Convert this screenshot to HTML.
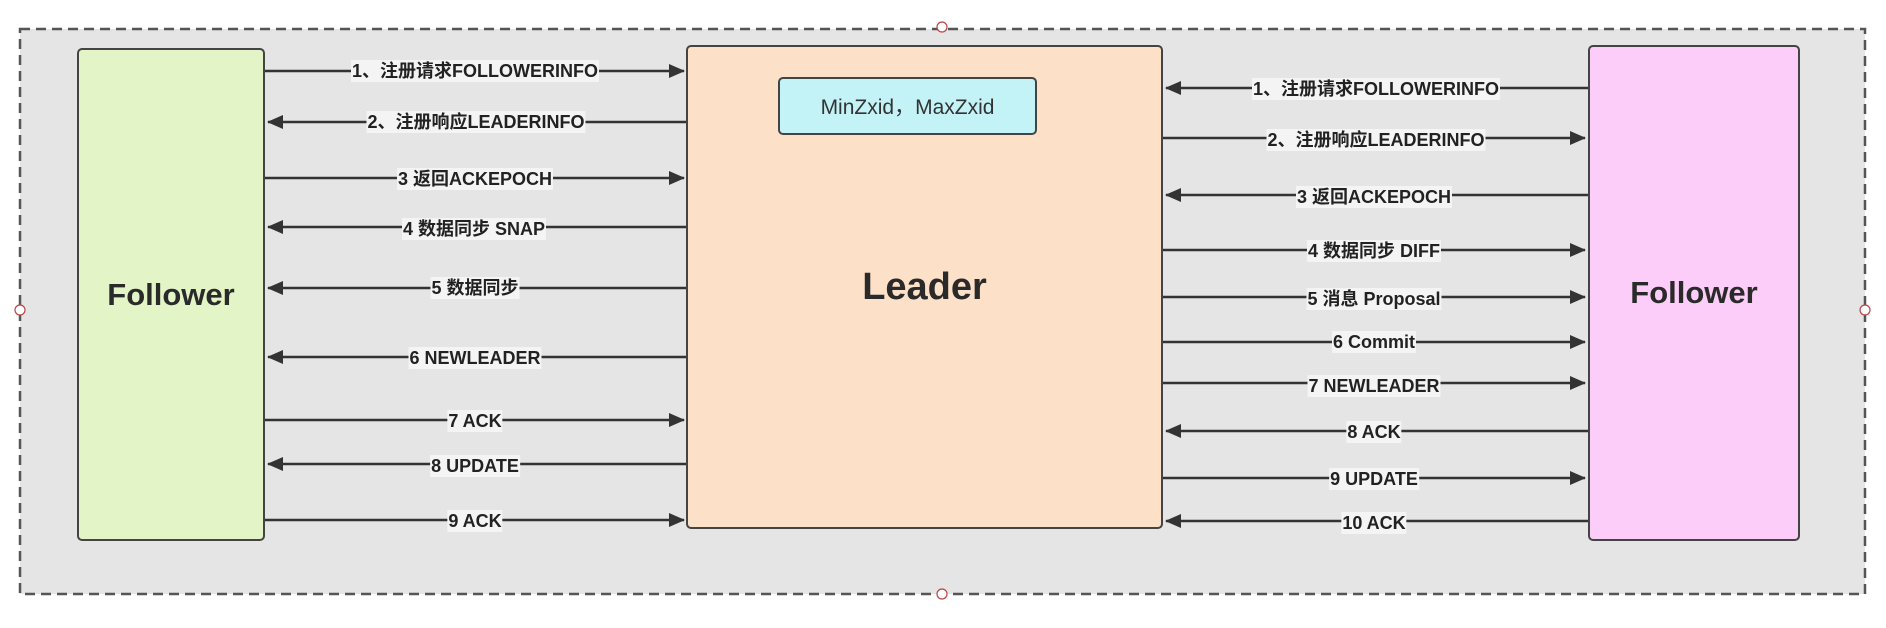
<!DOCTYPE html>
<html><head><meta charset="utf-8"><style>
body{margin:0;width:1886px;height:628px;background:#fff;position:relative;overflow:hidden;font-family:"Liberation Sans","Noto Sans CJK SC",sans-serif}
.lb{position:absolute;transform:translate(-50%,-50%);background:#f4f4f4;color:#222;font-weight:bold;font-size:18px;white-space:nowrap;padding:0 1px;line-height:22px}
.box{position:absolute;border:2px solid #444;border-radius:5px;box-sizing:border-box;display:flex;align-items:center;justify-content:center;font-weight:bold;color:#2a2a2a}
</style></head><body>
<div style="position:absolute;left:20px;top:29px;width:1845px;height:565px;background:#e5e5e5"></div>
<svg width="1886" height="628" style="position:absolute;left:0;top:0">
<defs><marker id="a" markerWidth="16" markerHeight="14" refX="15" refY="7" orient="auto" markerUnits="userSpaceOnUse"><path d="M0,0 L16,7 L0,14 z" fill="#333"/></marker></defs>
<rect x="20" y="29" width="1845" height="565" fill="none" stroke="#555" stroke-width="2.5" stroke-dasharray="10,6"/>
<g fill="#fff" stroke="#b44" stroke-width="1.2"><circle cx="942" cy="27" r="5"/><circle cx="942" cy="594" r="5"/><circle cx="20" cy="310" r="5"/><circle cx="1865" cy="310" r="5"/></g>
<g stroke="#333" stroke-width="2.5" marker-end="url(#a)">
<line x1="265" y1="71" x2="684" y2="71"/>
<line x1="686" y1="122" x2="268" y2="122"/>
<line x1="265" y1="178" x2="684" y2="178"/>
<line x1="686" y1="227" x2="268" y2="227"/>
<line x1="686" y1="288" x2="268" y2="288"/>
<line x1="686" y1="357" x2="268" y2="357"/>
<line x1="265" y1="420" x2="684" y2="420"/>
<line x1="686" y1="464" x2="268" y2="464"/>
<line x1="265" y1="520" x2="684" y2="520"/>
<line x1="1588" y1="88" x2="1166" y2="88"/>
<line x1="1163" y1="138" x2="1585" y2="138"/>
<line x1="1588" y1="195" x2="1166" y2="195"/>
<line x1="1163" y1="250" x2="1585" y2="250"/>
<line x1="1163" y1="297" x2="1585" y2="297"/>
<line x1="1163" y1="342" x2="1585" y2="342"/>
<line x1="1163" y1="383" x2="1585" y2="383"/>
<line x1="1588" y1="431" x2="1166" y2="431"/>
<line x1="1163" y1="478" x2="1585" y2="478"/>
<line x1="1588" y1="521" x2="1166" y2="521"/>
</g></svg>
<div class="box" style="left:77px;top:48px;width:188px;height:493px;background:#e3f5c6;font-size:31px">Follower</div>
<div class="box" style="left:686px;top:45px;width:477px;height:484px;background:#fde0c8;font-size:38px">Leader</div>
<div class="box" style="left:778px;top:77px;width:259px;height:58px;background:#c4f3f7;font-weight:normal;font-size:21px;color:#333">MinZxid，MaxZxid</div>
<div class="box" style="left:1588px;top:45px;width:212px;height:496px;background:#fccdf8;font-size:31px">Follower</div>
<div class="lb" style="left:475px;top:71px">1、注册请求FOLLOWERINFO</div>
<div class="lb" style="left:476px;top:122px">2、注册响应LEADERINFO</div>
<div class="lb" style="left:475px;top:179px">3 返回ACKEPOCH</div>
<div class="lb" style="left:474px;top:229px">4 数据同步 SNAP</div>
<div class="lb" style="left:475px;top:288px">5 数据同步</div>
<div class="lb" style="left:475px;top:358px">6 NEWLEADER</div>
<div class="lb" style="left:475px;top:421px">7 ACK</div>
<div class="lb" style="left:475px;top:466px">8 UPDATE</div>
<div class="lb" style="left:475px;top:521px">9 ACK</div>
<div class="lb" style="left:1376px;top:89px">1、注册请求FOLLOWERINFO</div>
<div class="lb" style="left:1376px;top:140px">2、注册响应LEADERINFO</div>
<div class="lb" style="left:1374px;top:197px">3 返回ACKEPOCH</div>
<div class="lb" style="left:1374px;top:251px">4 数据同步 DIFF</div>
<div class="lb" style="left:1374px;top:299px">5 消息 Proposal</div>
<div class="lb" style="left:1374px;top:342px">6 Commit</div>
<div class="lb" style="left:1374px;top:386px">7 NEWLEADER</div>
<div class="lb" style="left:1374px;top:432px">8 ACK</div>
<div class="lb" style="left:1374px;top:479px">9 UPDATE</div>
<div class="lb" style="left:1374px;top:523px">10 ACK</div>
</body></html>
